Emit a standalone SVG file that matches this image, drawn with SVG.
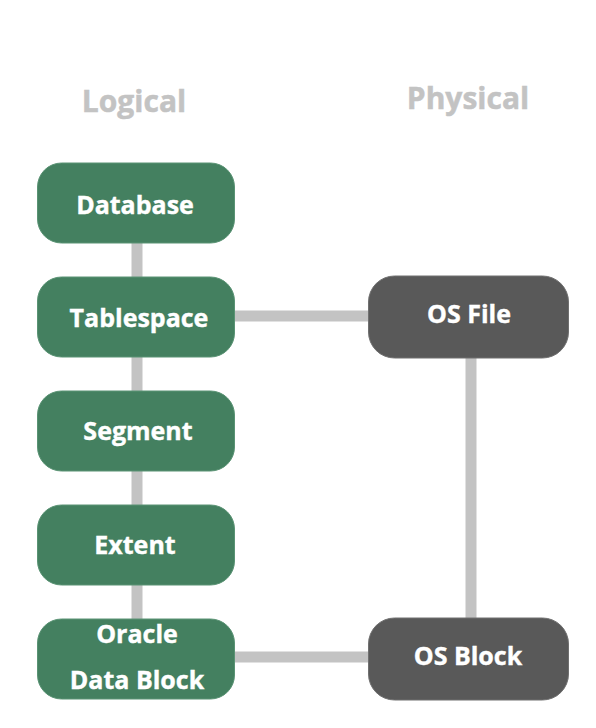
<svg xmlns="http://www.w3.org/2000/svg" width="596" height="728" viewBox="0 0 596 728">
<style>
.hdr{font-family:"Open Sans","Noto Sans","Liberation Sans",sans-serif;font-weight:bold;font-size:30px;fill:#c3c3c3;stroke:#c3c3c3;stroke-width:0.5;text-anchor:middle}
.lbl{font-family:"Open Sans","Noto Sans","Liberation Sans",sans-serif;font-weight:bold;font-size:25px;fill:#ffffff;stroke:#ffffff;stroke-width:0.4;text-anchor:middle}
.g{fill:#448060;stroke:#5a9374;stroke-width:1}
.d{fill:#595959;stroke:#707070;stroke-width:1}
.c{stroke:#c3c3c3;stroke-width:11;fill:none}
</style>
<rect width="596" height="728" fill="#ffffff"/>
<text class="hdr" x="134" y="112">Logical</text>
<text class="hdr" x="468" y="109">Physical</text>
<g id="connectors">
<line class="c" x1="137" y1="242" x2="137" y2="278"/>
<line class="c" x1="137" y1="356" x2="137" y2="392"/>
<line class="c" x1="137" y1="470" x2="137" y2="506"/>
<line class="c" x1="137" y1="584" x2="137" y2="620"/>
<line class="c" x1="234" y1="316" x2="369" y2="316"/>
<line class="c" x1="471" y1="357" x2="471" y2="619"/>
<line class="c" x1="234" y1="657" x2="369" y2="657"/>
</g>
<g id="database">
<rect class="g" x="37.5" y="163" width="197" height="80" rx="24"/>
<text class="lbl" x="135" y="214">Database</text>
</g>
<g id="tablespace">
<rect class="g" x="37.5" y="277" width="197" height="80" rx="24"/>
<text class="lbl" x="139" y="327">Tablespace</text>
</g>
<g id="segment">
<rect class="g" x="37.5" y="391" width="197" height="80" rx="24"/>
<text class="lbl" x="138" y="440">Segment</text>
</g>
<g id="extent">
<rect class="g" x="37.5" y="505" width="197" height="80" rx="24"/>
<text class="lbl" x="135" y="554">Extent</text>
</g>
<g id="oracle-data-block">
<rect class="g" x="37.5" y="619" width="197" height="80" rx="24"/>
<text class="lbl" x="137" y="643">Oracle</text>
<text class="lbl" x="137" y="689">Data Block</text>
</g>
<g id="os-file">
<rect class="d" x="368.5" y="276" width="200" height="82" rx="26"/>
<text class="lbl" x="469" y="323">OS File</text>
</g>
<g id="os-block">
<rect class="d" x="368.5" y="618" width="200" height="82" rx="26"/>
<text class="lbl" x="468" y="665">OS Block</text>
</g>
</svg>
